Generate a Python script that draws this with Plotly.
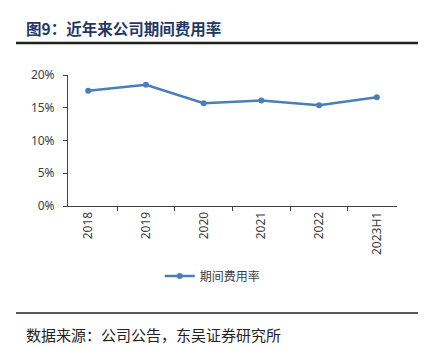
import plotly.graph_objects as go

# Period expense ratio by year
categories = ["2018", "2019", "2020", "2021", "2022", "2023H1"]
expense_ratio = [0.176, 0.185, 0.157, 0.161, 0.154, 0.166]
series_name = "期间费用率"
title_text = "图9：近年来公司期间费用率"
source_text = "数据来源：公司公告，东吴证券研究所"

W, H = 428, 346
L, R, T, B = 68, 31, 75, 140
pw, ph = W - L - R, H - T - B


def px(x):
    return (x - L) / pw


def py(y):
    return (H - B - y) / ph


axis_color = "#404040"
line_color = "#4A7EBB"
font_cjk = "Noto Sans CJK SC"

fig = go.Figure()
fig.add_trace(go.Scatter(
    x=categories, y=expense_ratio, name=series_name,
    mode="lines+markers",
    line=dict(color=line_color, width=2.5),
    marker=dict(color=line_color, size=6),
))

fig.update_layout(
    width=W, height=H,
    margin=dict(l=L, r=R, t=T, b=B),
    paper_bgcolor="white", plot_bgcolor="white",
    font=dict(family=font_cjk, color=axis_color, size=12),
    showlegend=True,
    legend=dict(orientation="h", x=0.44, xanchor="center", y=py(276), yanchor="middle",
                font=dict(size=12, color="#404040"), itemwidth=30),
    xaxis=dict(
        type="category", tickangle=-90, showline=True, linecolor=axis_color, linewidth=1,
        ticks="outside", tickson="boundaries", ticklen=4, tickcolor=axis_color,
        showgrid=False, tickfont=dict(size=12, family="Noto Sans"),
    ),
    yaxis=dict(
        range=[0, 0.2], dtick=0.05, tickformat=".0%", showline=True, linecolor=axis_color,
        linewidth=1, ticks="outside", ticklen=4, tickcolor=axis_color, showgrid=False,
        zeroline=False, tickfont=dict(size=12, family="Noto Sans"), ticklabelstandoff=6,
    ),
)

# Header title and rules
fig.add_annotation(text=f"<b>{title_text}</b>", xref="paper", yref="paper",
                   x=px(24), y=py(28), xanchor="left", yanchor="middle", showarrow=False,
                   font=dict(family=font_cjk, size=15.5, color="#1F3864"))
fig.add_shape(type="line", xref="paper", yref="paper", x0=px(16), x1=px(418),
              y0=py(43), y1=py(43), line=dict(color="#222222", width=2.5))
fig.add_shape(type="line", xref="paper", yref="paper", x0=px(16), x1=px(418),
              y0=py(313), y1=py(313), line=dict(color="#222222", width=1.5))
fig.add_annotation(text=source_text, xref="paper", yref="paper",
                   x=px(24), y=py(334), xanchor="left", yanchor="middle", showarrow=False,
                   font=dict(family=font_cjk, size=15, color="#222222"))

fig.write_html("out.html")
